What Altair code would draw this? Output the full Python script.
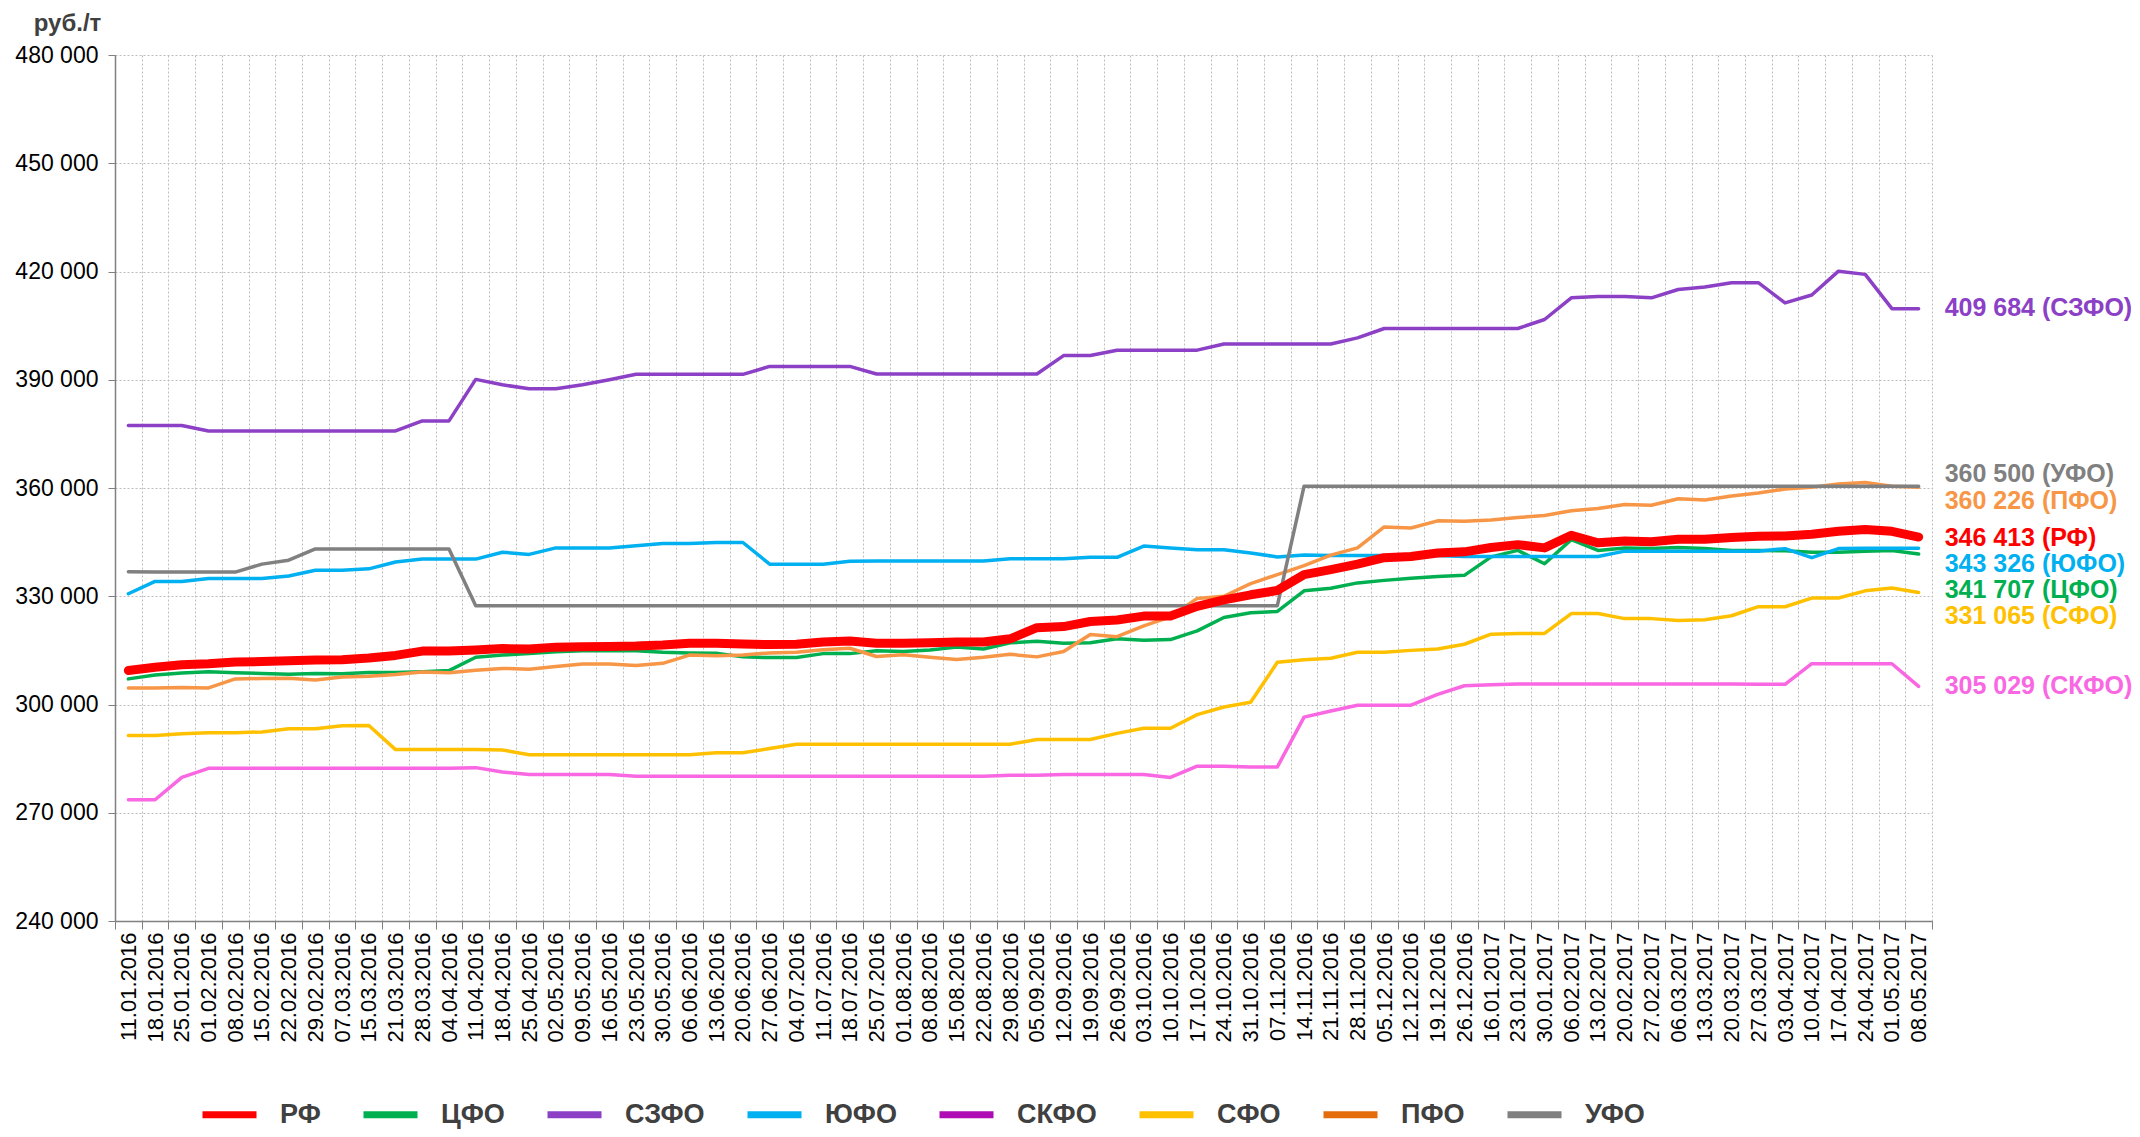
import altair as alt
import pandas as pd

dates = [
    "11.01.2016", "18.01.2016", "25.01.2016", "01.02.2016", "08.02.2016", "15.02.2016",
    "22.02.2016", "29.02.2016", "07.03.2016", "15.03.2016", "21.03.2016", "28.03.2016",
    "04.04.2016", "11.04.2016", "18.04.2016", "25.04.2016", "02.05.2016", "09.05.2016",
    "16.05.2016", "23.05.2016", "30.05.2016", "06.06.2016", "13.06.2016", "20.06.2016",
    "27.06.2016", "04.07.2016", "11.07.2016", "18.07.2016", "25.07.2016", "01.08.2016",
    "08.08.2016", "15.08.2016", "22.08.2016", "29.08.2016", "05.09.2016", "12.09.2016",
    "19.09.2016", "26.09.2016", "03.10.2016", "10.10.2016", "17.10.2016", "24.10.2016",
    "31.10.2016", "07.11.2016", "14.11.2016", "21.11.2016", "28.11.2016", "05.12.2016",
    "12.12.2016", "19.12.2016", "26.12.2016", "16.01.2017", "23.01.2017", "30.01.2017",
    "06.02.2017", "13.02.2017", "20.02.2017", "27.02.2017", "06.03.2017", "13.03.2017",
    "20.03.2017", "27.03.2017", "03.04.2017", "10.04.2017", "17.04.2017", "24.04.2017",
    "01.05.2017", "08.05.2017",
]

names = ["РФ", "ЦФО", "СЗФО", "ЮФО", "СКФО", "СФО", "ПФО", "УФО"]

rf = [309400, 310300, 311000, 311300, 311800, 311900, 312100, 312300, 312400, 312900,
      313600, 314800, 314800, 315100, 315500, 315400, 315900, 316000, 316100, 316200,
      316500, 317000, 317000, 316800, 316600, 316700, 317300, 317600, 317000, 317000,
      317100, 317300, 317300, 318200, 321300, 321600, 323000, 323400, 324500, 324500,
      327200, 329000, 330400, 331600, 336000, 337400, 338900, 340700, 341000, 342000,
      342300, 343500, 344300, 343400, 346900, 344800, 345300, 345100, 345800, 345800,
      346300, 346600, 346700, 347200, 348000, 348500, 348000, 346413]

cfo = [307100, 308200, 308700, 309100, 308800, 308600, 308400, 308600, 308500, 308900,
       308900, 309100, 309400, 313100, 313700, 314100, 314600, 314900, 314900, 314900,
       314500, 314300, 314200, 313200, 313000, 313000, 314100, 314100, 314900, 314700,
       315100, 315900, 315400, 317100, 317500, 317000, 317100, 318200, 317800, 318000,
       320400, 324100, 325400, 325800, 331500, 332200, 333700, 334400, 335000, 335500,
       335800, 340900, 342700, 339000, 345700, 342700, 343400, 343200, 343500, 343200,
       342700, 342700, 342600, 342200, 342200, 342500, 342700, 341707]

szfo = [377300, 377300, 377300, 375800, 375800, 375800, 375800, 375800, 375800, 375800,
        375800, 378600, 378600, 390100, 388600, 387500, 387500, 388600, 390000, 391500,
        391500, 391500, 391500, 391500, 393700, 393700, 393700, 393700, 391600, 391600,
        391600, 391600, 391600, 391600, 391600, 396700, 396700, 398200, 398200, 398200,
        398200, 399900, 399900, 399900, 399900, 399900, 401600, 404200, 404200, 404200,
        404200, 404200, 404200, 406700, 412700, 413100, 413100, 412700, 415000, 415700,
        416900, 416900, 411300, 413500, 420100, 419200, 409700, 409684]

yufo = [330700, 334100, 334100, 334900, 334900, 334900, 335600, 337200, 337200, 337600,
        339500, 340300, 340300, 340300, 342200, 341600, 343400, 343400, 343400, 344000,
        344600, 344600, 344900, 344900, 338900, 338900, 338900, 339700, 339800, 339800,
        339800, 339800, 339800, 340400, 340400, 340400, 340800, 340800, 343900, 343400,
        342900, 342900, 342000, 340900, 341400, 341300, 341300, 341300, 341300, 341300,
        341000, 341000, 341000, 341000, 341000, 341000, 342500, 342500, 342500, 342500,
        342500, 342500, 343200, 340700, 343200, 343300, 343300, 343326]

skfo = [273600, 273600, 279800, 282300, 282300, 282300, 282300, 282300, 282300, 282300,
        282300, 282300, 282300, 282500, 281300, 280600, 280600, 280600, 280600, 280100,
        280100, 280100, 280100, 280100, 280100, 280100, 280100, 280100, 280100, 280100,
        280100, 280100, 280100, 280400, 280400, 280600, 280600, 280600, 280600, 279800,
        282900, 282900, 282700, 282700, 296500, 298200, 299800, 299800, 299800, 302800,
        305200, 305500, 305700, 305700, 305700, 305700, 305700, 305700, 305700, 305700,
        305700, 305600, 305600, 311300, 311300, 311300, 311300, 305029]

sfo = [291400, 291400, 291900, 292200, 292200, 292400, 293300, 293300, 294100, 294200,
       287500, 287500, 287500, 287500, 287400, 286100, 286100, 286100, 286100, 286100,
       286100, 286100, 286600, 286600, 287800, 289000, 289000, 289000, 289000, 289000,
       289000, 289000, 289000, 289000, 290300, 290300, 290300, 292000, 293400, 293400,
       297200, 299300, 300600, 311700, 312400, 312800, 314500, 314500, 315000, 315400,
       316700, 319500, 319700, 319700, 325200, 325200, 323800, 323800, 323300, 323500,
       324600, 327100, 327100, 329500, 329500, 331500, 332300, 331065]

pfo = [304600, 304600, 304700, 304600, 307100, 307200, 307300, 306800, 307600, 307800,
       308300, 309000, 308800, 309500, 310000, 309800, 310500, 311200, 311200, 310800,
       311400, 313700, 313500, 313700, 314300, 314500, 315200, 315600, 313300, 313800,
       313100, 312500, 313100, 313900, 313200, 314700, 319400, 318800, 321800, 324300,
       329400, 330000, 333500, 336000, 338500, 341400, 343400, 349200, 348900, 350900,
       350800, 351100, 351800, 352400, 353700, 354300, 355400, 355200, 357000, 356700,
       357800, 358600, 359700, 360200, 361100, 361500, 360500, 360226]

ufo = [336800, 336700, 336700, 336700, 336700, 338900, 340000, 343100, 343100, 343100,
       343100, 343100, 343100, 327400, 327400, 327400, 327400, 327400, 327400, 327400,
       327400, 327400, 327400, 327400, 327400, 327400, 327400, 327400, 327400, 327400,
       327400, 327400, 327400, 327400, 327400, 327400, 327400, 327400, 327400, 327400,
       327400, 327400, 327400, 327400, 360500, 360500, 360500, 360500, 360500, 360500,
       360500, 360500, 360500, 360500, 360500, 360500, 360500, 360500, 360500, 360500,
       360500, 360500, 360500, 360500, 360500, 360500, 360500, 360500]

series = [rf, cfo, szfo, yufo, skfo, sfo, pfo, ufo]

# vertical anchor (in rub/t) of the end-of-line value labels
label_anchor = [346100, 331600, 409750, 338900, 305050, 324600, 356450, 363900]

line_colors = ["#FF0000", "#00B050", "#8B40C6", "#00B0F0", "#F967E3", "#FFC000", "#F79646", "#808080"]
legend_colors = ["#FF0000", "#00B050", "#8B40C6", "#00B0F0", "#B00CB5", "#FFC000", "#E46C0A", "#808080"]

y_ticks = [240000, 270000, 300000, 330000, 360000, 390000, 420000, 450000, 480000]

rows = []
for n, vals in zip(names, series):
    for d, v in zip(dates, vals):
        rows.append({"date": d, "name": n, "value": v})
df = pd.DataFrame(rows)


def fmt(v):
    return f"{v:,}".replace(",", " ")


lbl = pd.DataFrame({
    "date": [dates[-1]] * len(names),
    "name": names,
    "value": label_anchor,
    "text": [f"{fmt(s[-1])} ({n})" for s, n in zip(series, names)],
})

AXIS_COLOR = "#808080"
GRID_COLOR = "#bdbdbd"
FONT = "Liberation Sans"

x_enc = alt.X(
    "date:N",
    bandPosition=0.5,
    scale=alt.Scale(type="band", domain=dates, paddingInner=0, paddingOuter=0),
    axis=alt.Axis(
        title=None, labelAngle=-90, tickBand="extent", grid=True,
        gridDash=[2, 2], gridColor=GRID_COLOR, gridWidth=1,
        domainColor=AXIS_COLOR, domainWidth=1.5, tickColor=AXIS_COLOR, tickSize=8,
        labelPadding=3, labelFont=FONT, labelFontSize=22, labelColor="#000000",
        labelAlign="right", labelBaseline="middle",
    ),
)

y_enc = alt.Y(
    "value:Q",
    scale=alt.Scale(domain=[240000, 480000], nice=False, zero=False),
    axis=alt.Axis(
        values=y_ticks,
        labelExpr="replace(format(datum.value, ','), ',', ' ')",
        grid=True, gridDash=[2, 2], gridColor=GRID_COLOR, gridWidth=1,
        domainColor=AXIS_COLOR, domainWidth=1.5, tickColor=AXIS_COLOR, tickSize=7,
        labelPadding=10, labelFont=FONT, labelFontSize=23, labelColor="#000000",
        title="руб./т", titleAngle=0, titleX=-48, titleY=-25, titleAlign="center",
        titleBaseline="alphabetic", titleFont=FONT, titleFontSize=24,
        titleFontWeight="bold", titleColor="#404040",
    ),
)

base = alt.Chart(df)

others = base.transform_filter(alt.datum.name != "РФ").mark_line(
    strokeWidth=3.5, strokeJoin="round", strokeCap="round"
).encode(
    x=x_enc, y=y_enc,
    color=alt.Color("name:N", scale=alt.Scale(domain=names, range=line_colors), legend=None),
)

rf_line = base.transform_filter(alt.datum.name == "РФ").mark_line(
    color="#FF0000", strokeWidth=9, strokeJoin="round", strokeCap="round"
).encode(x=x_enc, y=y_enc)

labels = alt.Chart(lbl).mark_text(
    align="left", baseline="middle", dx=26, font=FONT,
    fontSize=25, fontWeight="bold",
).encode(
    x=x_enc, y=y_enc, text="text:N",
    color=alt.Color("name:N", scale=alt.Scale(domain=names, range=line_colors), legend=None),
)

legend_layer = base.transform_filter("false").mark_line(strokeWidth=7).encode(
    x=x_enc, y=y_enc,
    color=alt.Color(
        "name:N",
        scale=alt.Scale(domain=names, range=legend_colors),
        legend=alt.Legend(
            title=None, orient="none", legendX=84, legendY=1029, direction="horizontal",
            symbolType="stroke", symbolStrokeWidth=7, symbolSize=2916,
            labelFont=FONT, labelFontSize=27, labelFontWeight="bold", labelColor="#404040",
            columnPadding=28, labelOffset=20, padding=0, labelLimit=0,
        ),
    ),
)

chart = alt.layer(others, rf_line, labels, legend_layer).resolve_scale(
    color="independent"
).properties(
    width=1817, height=866,
    autosize=alt.AutoSizeParams(type="none"),
    padding={"left": 107, "top": 47, "right": 200, "bottom": 208},
    background="white",
).configure_view(stroke=None)

chart.save("out.html", embed_options={"renderer": "svg", "actions": False})
